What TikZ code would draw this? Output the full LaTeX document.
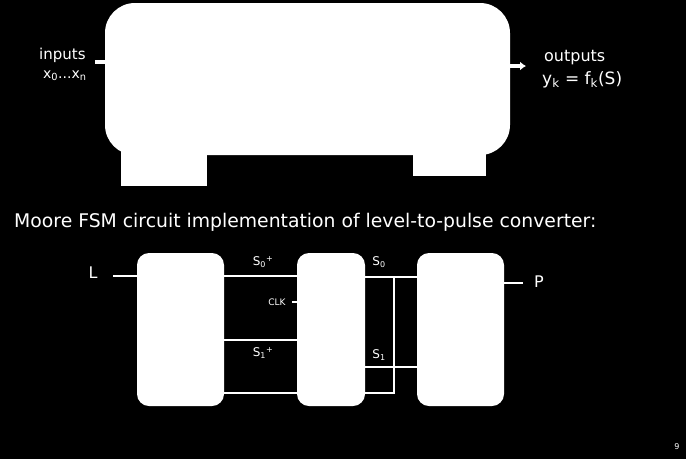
\documentclass[tikz,border=0pt]{standalone}
\usepackage{fontspec}
\setmainfont{DejaVu Sans}
\usetikzlibrary{calc,arrows.meta}

\begin{document}
\begin{tikzpicture}[x=1pt, y=-1pt,
  blk/.style={fill=white, rounded corners=12pt, inner sep=0pt, minimum height=153pt},
  wire/.style={white, line width=2.5pt},
  lbl/.style={white, inner sep=0pt}]
  \fill[black] (0,0) rectangle (686,459);
  \useasboundingbox (0,0) rectangle (686,459);

  % general Moore machine
  \node[fill=white, rounded corners=30pt, minimum width=405pt, minimum height=152pt, inner sep=0pt] (fsm) at (307.5,79) {};
  \fill[white] (121,150) rectangle (206.5,186);
  \fill[white] (413,150) rectangle (485.5,176);
  \coordinate (in_end) at (95,62);
  \coordinate (out_end) at (526,66);
  \draw[white, line width=4.5pt] (in_end) -- (fsm.west |- in_end);
  \draw[white, line width=4pt, -{Latex[length=6pt,width=9pt]}] (fsm.east |- out_end) -- (out_end);
  \node[lbl, anchor=west] at (39,55) {\fontsize{15}{18}\selectfont inputs};
  \node[lbl, anchor=west] at (43,76) {\fontsize{14}{16}\selectfont x\textsubscript{0}...x\textsubscript{n}};
  \node[lbl, anchor=west] at (544,58) {\fontsize{16}{18}\selectfont outputs};
  \node[lbl, anchor=west] at (542,80) {\fontsize{17}{20}\selectfont y\textsubscript{k} = f\textsubscript{k}(S)};

  \node[lbl, anchor=west] (title) at (14,222) {\fontsize{18.8}{22}\selectfont Moore FSM circuit implementation of level-to-pulse converter:};

  % level-to-pulse circuit
  \node[blk, minimum width=87pt] (nxt) at (180.5,329.5) {};
  \node[blk, minimum width=68pt] (reg) at (331,329.5) {};
  \node[blk, minimum width=87pt] (outl) at (460.5,329.5) {};

  \coordinate (L_end) at (113,276);
  \coordinate (clk_end) at (292,302);
  \coordinate (P_end) at (523,283);
  \coordinate (fb) at (394,393);
  \draw[wire] (L_end) -- (nxt.west |- L_end);
  \draw[wire] (nxt.east |- 0,276) -- (reg.west |- 0,276);
  \draw[wire] (nxt.east |- 0,340) -- (reg.west |- 0,340);
  \draw[wire] (nxt.east |- fb) -- (reg.west |- fb);
  \draw[wire] (reg.east |- 0,277) -- (outl.west |- 0,277);
  \draw[wire] (reg.east |- 0,367) -- (outl.west |- 0,367);
  \draw[wire] (reg.east |- fb) -- (fb) -- (fb |- 0,277);
  \draw[wire] (clk_end) -- (reg.west |- clk_end);
  \draw[wire] (outl.east |- P_end) -- (P_end);

  \node[lbl] at (93,273) {\fontsize{16}{18}\selectfont L};
  \node[lbl] at (539,282) {\fontsize{16}{18}\selectfont P};
  \node[lbl] at (263,262) {\fontsize{12}{14}\selectfont S\textsubscript{0}\textsuperscript{+}};
  \node[lbl] at (263,353) {\fontsize{12}{14}\selectfont S\textsubscript{1}\textsuperscript{+}};
  \node[lbl] at (379,262) {\fontsize{12}{14}\selectfont S\textsubscript{0}};
  \node[lbl] at (379,355) {\fontsize{12}{14}\selectfont S\textsubscript{1}};
  \node[lbl] at (277,302) {\fontsize{9}{11}\selectfont CLK};
  \node[lbl] at (677,447) {\fontsize{8}{10}\selectfont 9};
\end{tikzpicture}
\end{document}
